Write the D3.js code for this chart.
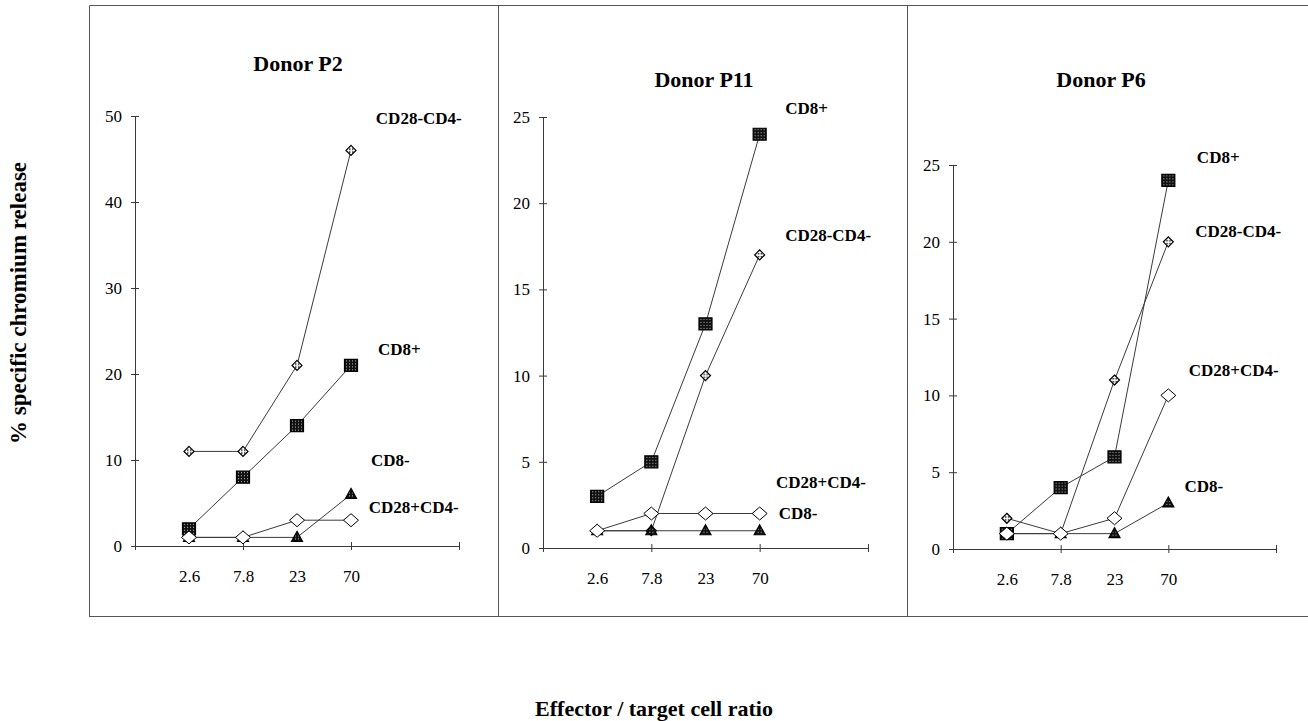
<!DOCTYPE html>
<html>
<head>
<meta charset="utf-8">
<script src="https://cdn.jsdelivr.net/npm/d3@7"></script>
<style>
  body { margin: 0; background: #fff; }
  svg { display: block; font-family: "Liberation Serif", "Times New Roman", serif; }
</style>
</head>
<body>
<svg id="drawing_region"></svg>
<script>
// E:T ratios along the x axis (placed at slots 1..4 of a 0..6 axis)
const ratios = ["2.6", "7.8", "23", "70"];
const donors = ["Donor P2", "Donor P11", "Donor P6"];
const seriesNames = ["CD28-CD4-", "CD8+", "CD8-", "CD28+CD4-"];

// % specific chromium release, same order as seriesNames
const p2Values  = [[11, 11, 21, 46], [2, 8, 14, 21], [1, 1, 1, 6], [1, 1, 3, 3]];
const p11Values = [[1, 1, 10, 17], [3, 5, 13, 24], [1, 1, 1, 1], [1, 2, 2, 2]];
const p6Values  = [[2, 1, 11, 20], [1, 4, 6, 24], [1, 1, 1, 3], [1, 1, 2, 10]];

const yMaxes = [50, 25, 25];
const ySteps = [10, 5, 5];

// layout (label anchors in axis units, seriesNames order)
const W = 1308, H = 721;
const panels = [
  {x0: 135, x1: 459, yTop: 116, yBot: 546, title: [298, 63],
   labels: [[4.46, 49.7], [4.5, 22.8], [4.37, 9.9], [4.33, 4.5]]},
  {x0: 543, x1: 868, yTop: 117, yBot: 548, title: [704, 79],
   labels: [[4.47, 18.1], [4.47, 25.5], [4.35, 2.0], [4.3, 3.8]]},
  {x0: 953, x1: 1276, yTop: 165, yBot: 549, title: [1101, 79],
   labels: [[4.5, 20.7], [4.53, 25.5], [4.3, 4.1], [4.38, 11.6]]}
];
const allValues = [p2Values, p11Values, p6Values];
const lineColor = "#3a3a3a";

const svg = d3.select("#drawing_region").attr("width", W).attr("height", H);

// fill patterns for the speckled markers
const defs = svg.append("defs");
const sq = defs.append("pattern").attr("id", "pSquare").attr("patternUnits", "userSpaceOnUse")
  .attr("width", 3).attr("height", 3);
sq.append("rect").attr("width", 3).attr("height", 3).attr("fill", "#111");
sq.append("rect").attr("x", 1).attr("y", 1).attr("width", 1).attr("height", 1).attr("fill", "#bbb");
const dm = defs.append("pattern").attr("id", "pDiamond").attr("patternUnits", "userSpaceOnUse")
  .attr("width", 3).attr("height", 3);
dm.append("rect").attr("width", 3).attr("height", 3).attr("fill", "#fff");
dm.append("rect").attr("x", 1).attr("y", 1).attr("width", 1.5).attr("height", 1.5).attr("fill", "#111");

// frame
const frame = svg.append("g").attr("stroke", "#555").attr("fill", "none");
frame.append("path").attr("d", "M89.5,617 V5.5 H1308");
frame.append("path").attr("d", "M89.5,616.5 H1308");
frame.append("path").attr("d", "M498.5,5.5 V616.5");
frame.append("path").attr("d", "M907.5,5.5 V616.5");

// marker shapes
function markerPath(kind) {
  if (kind === 0) return "M0,-5 L5,0 L0,5 L-5,0 Z";
  if (kind === 1) return "M-6.5,-6 H6.5 V6 H-6.5 Z";
  if (kind === 2) return "M0,-6 L5.5,4 H-5.5 Z";
  return "M0,-6.5 L7.5,0 L0,6.5 L-7.5,0 Z";
}
const markerFill = ["url(#pDiamond)", "url(#pSquare)", "url(#pSquare)", "#fff"];

panels.forEach((p, pi) => {
  const values = allValues[pi];
  const xscale = d3.scaleLinear().domain([0, 6]).range([p.x0, p.x1]);
  const yscale = d3.scaleLinear().domain([0, yMaxes[pi]]).range([p.yBot, p.yTop]);
  const g = svg.append("g");

  // y axis
  const yaxis = d3.axisLeft(yscale)
    .tickValues(d3.range(0, yMaxes[pi] + 0.1, ySteps[pi]))
    .tickSizeInner(4).tickSizeOuter(0).tickPadding(9);
  const yg = g.append("g").attr("transform", `translate(${p.x0},0)`).call(yaxis);
  yg.selectAll("line").attr("x1", 4);
  yg.selectAll("path, line").attr("stroke", lineColor);
  yg.selectAll("text").attr("font-size", 17).attr("font-family", "Liberation Serif").attr("fill", "#000");

  // x axis (ticks every 2 slots)
  const xaxis = d3.axisBottom(xscale).tickValues([0, 2, 4, 6]).tickFormat("")
    .tickSizeInner(4).tickSizeOuter(0);
  const xg = g.append("g").attr("transform", `translate(0,${p.yBot})`).call(xaxis);
  xg.selectAll("line").attr("y1", -4);
  xg.selectAll("path, line").attr("stroke", lineColor);

  // category labels
  const xlab = d3.axisBottom(xscale).tickValues([1, 2, 3, 4])
    .tickFormat(d => ratios[d - 1]).tickSize(0).tickPadding(24);
  const xl = g.append("g").attr("transform", `translate(0,${p.yBot})`).call(xlab);
  xl.select(".domain").remove();
  xl.selectAll("text").attr("font-size", 17).attr("font-family", "Liberation Serif").attr("fill", "#000");

  // title
  g.append("text").attr("x", p.title[0]).attr("y", p.title[1])
    .attr("text-anchor", "middle").attr("dominant-baseline", "central")
    .attr("font-weight", "bold").attr("font-size", 22).text(donors[pi]);

  // lines
  const line = d3.line().x((d, i) => xscale(i + 1)).y(d => yscale(d));
  values.forEach(v => {
    g.append("path").attr("d", line(v)).attr("fill", "none")
      .attr("stroke", lineColor).attr("stroke-width", 1);
  });

  // markers
  values.forEach((v, si) => {
    g.selectAll(null).data(v).join("path")
      .attr("transform", (d, i) => `translate(${xscale(i + 1)},${yscale(d)})`)
      .attr("d", markerPath(si))
      .attr("fill", markerFill[si])
      .attr("stroke", "#000").attr("stroke-width", si === 3 ? 1 : 1.2);
  });

  // series labels
  seriesNames.forEach((name, si) => {
    g.append("text").attr("x", xscale(p.labels[si][0])).attr("y", yscale(p.labels[si][1]))
      .attr("dominant-baseline", "central")
      .attr("font-weight", "bold").attr("font-size", 17).text(name);
  });
});

// axis titles
svg.append("text")
  .attr("transform", "translate(18,303) rotate(-90)")
  .attr("text-anchor", "middle").attr("dominant-baseline", "central")
  .attr("font-weight", "bold").attr("font-size", 23)
  .text("% specific chromium release");
svg.append("text")
  .attr("x", 654).attr("y", 708)
  .attr("text-anchor", "middle").attr("dominant-baseline", "central")
  .attr("font-weight", "bold").attr("font-size", 22)
  .text("Effector / target cell ratio");
</script>
</body>
</html>
